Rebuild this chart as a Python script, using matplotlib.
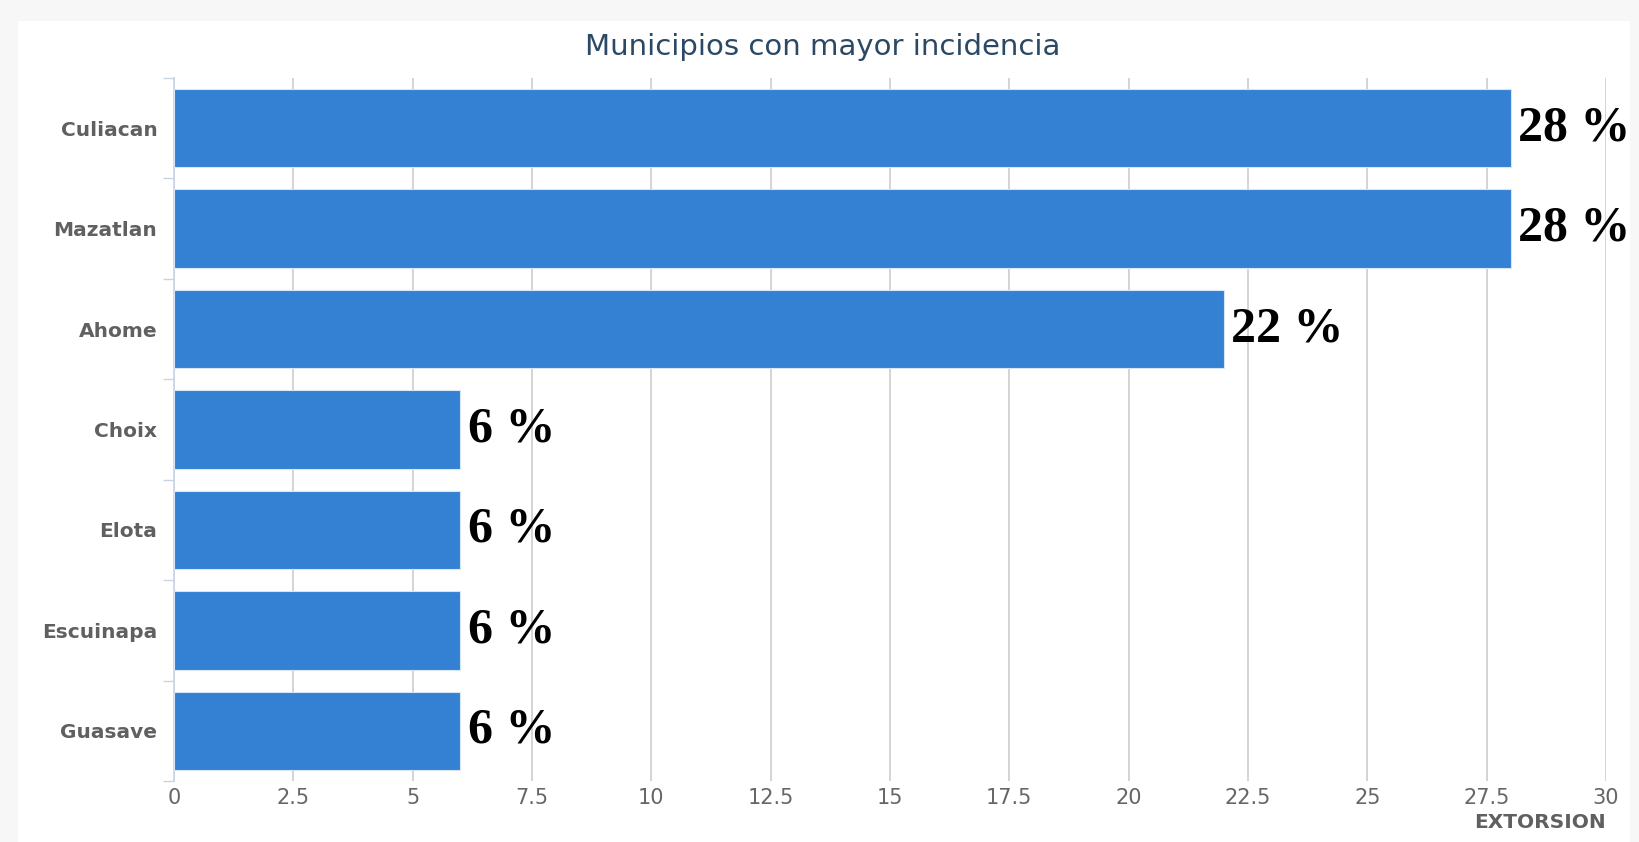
import matplotlib
matplotlib.use("Agg")
import matplotlib.pyplot as plt
from matplotlib.patches import Rectangle

# ── data ────────────────────────────────────────────────────────────────────
municipios = ["Culiacan", "Mazatlan", "Ahome", "Choix", "Elota", "Escuinapa", "Guasave"]
valores = [28, 28, 22, 6, 6, 6, 6]
xticks = [0, 2.5, 5, 7.5, 10, 12.5, 15, 17.5, 20, 22.5, 25, 27.5, 30]
xtick_labels = ["0", "2.5", "5", "7.5", "10", "12.5", "15", "17.5", "20", "22.5", "25", "27.5", "30"]

W, H = 1639, 842
fig = plt.figure(figsize=(W / 100, H / 100), dpi=100)
fig.patch.set_facecolor("#f7f7f7")

# white chart panel
fig.add_artist(Rectangle((18 / W, 0), (1630 - 18) / W, 1 - 21 / H,
                         transform=fig.transFigure, facecolor="white",
                         edgecolor="none", zorder=-10))

ax = fig.add_axes([174 / W, 1 - 781 / H, (1606 - 174) / W, (781 - 78) / H])
ax.set_facecolor("none")

ypos = list(range(len(municipios)))
ax.barh(ypos, valores, height=0.78, color="#3480d3", edgecolor="#d6e6f7",
        linewidth=0.8, zorder=3)

for y, v in zip(ypos, valores):
    ax.text(v + 0.15, y, f"{v} %", ha="left", va="center",
            family="Liberation Serif", fontweight="bold", fontsize=36,
            color="black", zorder=4, clip_on=False)

ax.set_xlim(0, 30)
ax.set_ylim(len(municipios) - 0.5, -0.5)
ax.set_xticks(xticks)
ax.set_xticklabels(xtick_labels, family="DejaVu Sans", fontsize=15, color="#666666")
ax.tick_params(axis="x", length=0, pad=5)
ax.grid(axis="x", color="#d4d4d4", linewidth=1.4, zorder=0)

ax.set_yticks(ypos)
ax.set_yticklabels(municipios, family="DejaVu Sans", fontweight="bold",
                   fontsize=14.5, color="#606060")
ax.tick_params(axis="y", which="major", length=0, pad=12)
ax.set_yticks([i - 0.5 for i in range(len(municipios) + 1)], minor=True)
ax.tick_params(axis="y", which="minor", length=8, width=1, color="#c8d4e6")

for s in ["top", "right", "bottom"]:
    ax.spines[s].set_visible(False)
ax.spines["left"].set_color("#c8d4e6")
ax.spines["left"].set_linewidth(1.2)

fig.text(823 / W, 1 - 47 / H, "Municipios con mayor incidencia", ha="center", va="center",
         family="DejaVu Sans", fontsize=21, color="#2b4865")
fig.text(1606 / W, 1 - 823 / H, "EXTORSION", ha="right", va="center",
         family="DejaVu Sans", fontweight="bold", fontsize=14.5, color="#606060")

# gray strip at the right clips the value labels, like the screenshot
fig.add_artist(Rectangle((1630 / W, 0), (W - 1630) / W, 1,
                         transform=fig.transFigure, facecolor="#f7f7f7",
                         edgecolor="none", zorder=10))

fig.savefig("out.png", dpi=100)
